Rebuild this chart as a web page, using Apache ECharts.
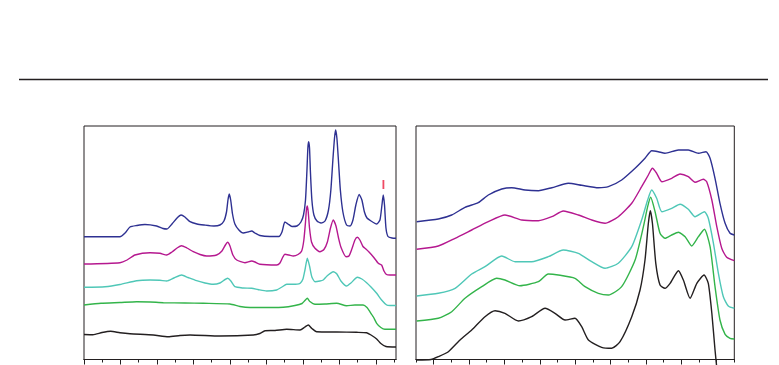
<!DOCTYPE html>
<html>
<head>
<meta charset="utf-8">
<script src="https://cdn.jsdelivr.net/npm/echarts@6/dist/echarts.min.js"></script>
<style>html,body{margin:0;padding:0;background:#fff}#c{width:779px;height:365px}</style>
</head>
<body>
<div id="c"></div>
<script>
// ---- Left panel spectra: [x (a.u.), intensity (a.u.)] ----
const leftBlue = [[0,122.8],[1.97,122.8],[2.25,126.5],[2.52,132.5],[2.9,134],[3.34,135],[3.98,133.5],[4.33,131],[4.55,130.5],[4.82,135.5],[5.1,141.5],[5.32,144.5],[5.53,142.5],[5.81,137.8],[6.19,135.5],[6.58,134.5],[7.12,133.5],[7.45,134.5],[7.67,138.5],[7.81,147.5],[7.89,159.5],[7.96,165.5],[8.04,159.5],[8.14,145.5],[8.27,135.5],[8.49,129.5],[8.73,126.5],[8.99,127.5],[9.19,128.5],[9.37,126.5],[9.64,124],[10.19,123],[10.68,123],[10.85,127.5],[11.01,137.5],[11.18,135.5],[11.4,133],[11.67,133.5],[11.89,137.5],[12.03,144.5],[12.14,159.5],[12.22,189.5],[12.27,211.5],[12.31,217.8],[12.36,211.5],[12.41,187.5],[12.49,159.5],[12.6,144.5],[12.77,138.5],[12.99,136.5],[13.21,138.5],[13.4,149.5],[13.53,169.5],[13.64,199.5],[13.73,221.5],[13.79,229.5],[13.86,221.5],[13.95,197.5],[14.05,169.5],[14.19,147.5],[14.39,134.5],[14.58,133.5],[14.74,139.5],[14.9,154.5],[15.08,165],[15.23,159.5],[15.37,147.5],[15.51,141.5],[15.73,138.5],[16.04,135.5],[16.22,139.5],[16.33,154.5],[16.4,164.5],[16.47,154.5],[16.55,131.5],[16.66,123],[16.88,121.5],[17.1,121.2]];
const leftMagenta = [[0,95.5],[1.97,96.8],[2.36,99.5],[2.79,104.5],[3.62,106.8],[4.16,106.2],[4.53,104.5],[4.82,107.5],[5.1,111.5],[5.35,113.8],[5.64,111.5],[5.99,107.8],[6.36,105],[6.72,103.5],[7.27,104.5],[7.56,108.5],[7.75,114.5],[7.87,117.2],[8.0,113.5],[8.16,104.5],[8.37,99.5],[8.82,96.8],[9.19,98.5],[9.37,97.5],[9.64,95.2],[10.56,94.5],[10.74,96.5],[10.9,102.5],[11.01,105.2],[11.23,104.5],[11.47,103.5],[11.73,105],[11.93,108.5],[12.05,119.5],[12.14,137.5],[12.19,149.5],[12.24,153.5],[12.29,147.5],[12.36,131.5],[12.47,117.5],[12.66,111.2],[12.93,107.8],[13.15,110],[13.34,117.5],[13.51,131.5],[13.66,139.5],[13.81,133.5],[13.95,121.5],[14.08,112.5],[14.36,102.8],[14.52,103.5],[14.68,110.5],[14.85,119.5],[14.98,122.2],[15.12,119.5],[15.29,113],[15.45,110.5],[15.62,107.5],[15.85,102.8],[16.13,96.2],[16.31,94.5],[16.44,88.5],[16.58,85],[16.77,84.5],[17.1,84.5]];
const leftCyan = [[0,72.2],[1.15,72.8],[1.97,75],[2.89,78.8],[3.62,79.5],[4.16,79.2],[4.53,78.5],[4.93,81.5],[5.35,84.5],[5.7,82],[6.17,78.8],[6.63,76.5],[7.08,75.2],[7.45,76.5],[7.87,81.2],[8.05,78.5],[8.27,72.8],[8.71,71.5],[9.19,71.2],[9.53,70],[10.01,68.5],[10.56,69.5],[10.85,72.5],[11.11,75.2],[11.45,75.2],[11.84,76.2],[12.0,80.5],[12.11,89.5],[12.24,101.2],[12.36,93.5],[12.49,82.5],[12.66,77.8],[12.93,78.5],[13.11,79.5],[13.32,83.5],[13.66,87.8],[13.86,85.5],[14.08,78.5],[14.39,73.5],[14.63,76.5],[14.98,82.2],[15.23,80.5],[15.49,76.8],[15.73,72.5],[16.04,66.2],[16.31,59.5],[16.59,54.5],[16.77,54],[17.1,54]];
const leftGreen = [[0,54.5],[0.93,56.2],[1.97,57],[2.89,57.8],[3.62,57.5],[4.35,56.8],[5.53,56.5],[6.54,56.2],[8.0,55.5],[8.55,53],[9.1,52],[10.19,52],[10.92,52.2],[11.56,54],[11.95,56],[12.11,59],[12.24,61.2],[12.38,58],[12.66,55.2],[13.21,55.5],[13.85,56.2],[14.39,53.8],[14.85,54.5],[15.3,54.5],[15.51,52],[15.67,47.8],[15.86,42.5],[16.04,36.2],[16.27,32],[16.49,30.2],[17.1,30.2]];
const leftBlack = [[0,25],[0.49,24.8],[0.99,27],[1.46,28.2],[1.97,26.8],[2.52,25.8],[3.8,24.5],[4.62,22.8],[5.26,24],[5.81,24.5],[7.45,23.5],[9.28,24.5],[9.64,26],[9.92,28.8],[10.47,29],[11.11,30.2],[11.84,29.5],[12.11,32.5],[12.29,34.5],[12.49,31],[12.75,27.8],[13.85,27.5],[14.94,27.2],[15.49,26.8],[15.73,24.5],[16.04,20.5],[16.27,16],[16.55,13],[17.1,12.5]];
const leftRedMark = [[16.41,170.5],[16.41,179.5]];

// ---- Right panel spectra ----
const rightBlue = [[0.04,137.8],[1.26,140.5],[2.02,144.5],[2.77,152.2],[3.52,156.8],[4.09,164.5],[4.85,170.5],[5.41,171.8],[6.17,169.5],[6.92,168.8],[7.68,171.8],[8.61,176.2],[9.37,174.2],[10.31,171.8],[10.88,172.8],[11.63,179.5],[12.39,191.2],[12.95,201.2],[13.33,208.8],[13.7,207.8],[14.08,206.2],[14.84,209.5],[15.4,209.5],[15.97,206.2],[16.4,207.8],[16.63,201.2],[16.91,181.2],[17.19,156.2],[17.48,136.2],[17.76,126.2],[18.0,124.5]];
const rightMagenta = [[0.04,110.2],[1.26,113.5],[2.21,121.2],[3.15,129.5],[4.09,137.8],[5.03,144.5],[5.98,139.5],[6.92,138.8],[7.68,142.8],[8.33,148.5],[9.18,144.5],[9.94,139.5],[10.69,136.2],[11.44,142.8],[12.2,156.2],[12.76,172.8],[13.14,184.5],[13.37,191.2],[13.61,186.2],[13.9,177.8],[14.46,181.2],[14.93,185.5],[15.4,182.8],[15.78,177.2],[16.25,180.2],[16.44,177.8],[16.73,159.5],[17.01,132.8],[17.29,111.2],[17.57,102.2],[18.0,98.8]];
const rightCyan = [[0.04,63.5],[1.26,66.2],[2.21,71.2],[3.15,85.5],[3.9,92.8],[4.85,103.5],[5.6,97.8],[6.54,97.8],[7.48,102.8],[8.33,109.5],[9.18,106.2],[9.94,97.8],[10.69,91.2],[11.44,96.2],[12.2,112.8],[12.76,139.5],[13.1,159.5],[13.33,169.5],[13.61,161.2],[13.9,147.8],[14.46,151.2],[14.93,155.2],[15.4,150.2],[15.78,142.8],[16.31,147.8],[16.53,141.2],[16.82,116.2],[17.1,86.2],[17.38,62.8],[17.66,53.5],[18.0,51.2]];
const rightGreen = [[0.04,38.5],[1.26,41.2],[2.02,47.8],[2.77,61.2],[3.72,72.8],[4.56,81.2],[5.03,79.5],[5.88,73.8],[6.92,77.8],[7.48,85.5],[8.05,84.5],[8.99,81.2],[9.56,72.8],[10.31,66.2],[10.88,64.5],[11.63,72.8],[12.39,99.5],[12.86,132.8],[13.1,152.8],[13.27,162.2],[13.52,147.8],[13.8,126.2],[14.08,121.2],[14.46,124.5],[14.84,127.2],[15.22,122.8],[15.59,113.5],[15.97,122.8],[16.31,130.2],[16.63,112.8],[16.91,72.8],[17.19,39.5],[17.48,25.2],[17.76,21.2],[18.0,20.5]];
const rightBlack = [[0.04,-0.5],[0.85,0],[1.26,2.8],[1.83,7.8],[2.49,19.5],[3.15,29.5],[3.9,42.8],[4.47,48.8],[5.03,46.2],[5.79,38.5],[6.54,42.8],[7.3,51.2],[7.86,46.2],[8.43,39.5],[8.99,41.2],[9.37,32.8],[9.75,19.5],[10.5,12.2],[11.07,11.2],[11.54,17.8],[12.2,42.8],[12.67,69.5],[12.95,99.5],[13.14,136.2],[13.25,148.8],[13.37,136.2],[13.56,96.2],[13.8,74.5],[14.08,71.2],[14.37,76.2],[14.84,88.8],[15.12,79.5],[15.5,61.2],[15.88,76.2],[16.29,84.5],[16.53,76.2],[16.73,46.2],[16.91,9.5],[17.05,-15.5]];

// ---- Axis ticks (no tick labels in the figure) ----
const leftMinorTicks = [0,1,2,3,4,5,6,7,8,9,10,11,12,13,14,15,16,17];
const leftMajorTicks = [0,2,4,6,8,10,12,14,16];
const rightMinorTicks = [0,1,2,3,4,5,6,7,8,9,10,11,12,13,14,15,16,17,18];
const rightMajorTicks = [1,3,5,7,9,11,13,15,17];

const C = {blue:'#2e3192', magenta:'#b5188f', cyan:'#4fc7b7', green:'#33b44a', black:'#231f20', red:'#ef4a64'};
const ink = '#231f20';

function xAx(grid, max, ticks, len){
  return {type:'value', gridIndex:grid, min:0, max:max, position:'bottom',
    axisLine:{show:true, lineStyle:{color:ink, width:1}},
    axisTick:{show:true, inside:false, length:len, customValues:ticks, lineStyle:{color:ink, width:1}},
    axisLabel:{show:false}, splitLine:{show:false}};
}
function yAx(grid){
  return {type:'value', gridIndex:grid, min:0, max:233.5, axisLine:{show:false}, axisTick:{show:false}, axisLabel:{show:false}, splitLine:{show:false}};
}
function ser(data, color, xi, yi, extra){
  return Object.assign({type:'line', data:data, xAxisIndex:xi, yAxisIndex:yi, showSymbol:false, smooth:0.2,
    lineStyle:{color:color, width:1.4}, itemStyle:{color:color}, silent:true}, extra||{});
}

const chart = echarts.init(document.getElementById('c'), null, {renderer:'canvas'});
chart.setOption({
  animation:false,
  backgroundColor:'#fff',
  graphic:[{type:'line', shape:{x1:19, y1:79.5, x2:768, y2:79.5}, style:{stroke:ink, lineWidth:1.3}}],
  grid:[
    {left:84, top:126, width:312, height:233.5, show:true, borderColor:ink, borderWidth:1, backgroundColor:'transparent'},
    {left:416, top:126, width:318.3, height:233.5, show:true, borderColor:ink, borderWidth:1, backgroundColor:'transparent'}
  ],
  xAxis:[
    xAx(0, 17.1, leftMinorTicks, 3),
    xAx(0, 17.1, leftMajorTicks, 5),
    xAx(1, 18, rightMinorTicks, 3),
    xAx(1, 18, rightMajorTicks, 5)
  ],
  yAxis:[yAx(0), yAx(1)],
  series:[
    ser(leftBlack, C.black, 0, 0),
    ser(leftGreen, C.green, 0, 0),
    ser(leftCyan, C.cyan, 0, 0),
    ser(leftMagenta, C.magenta, 0, 0),
    ser(leftBlue, C.blue, 0, 0),
    ser(leftRedMark, C.red, 0, 0, {smooth:false, lineStyle:{color:C.red, width:1.8}}),
    ser(rightBlack, C.black, 2, 1, {clip:false}),
    ser(rightGreen, C.green, 2, 1),
    ser(rightCyan, C.cyan, 2, 1),
    ser(rightMagenta, C.magenta, 2, 1),
    ser(rightBlue, C.blue, 2, 1)
  ]
});
</script>
</body>
</html>
